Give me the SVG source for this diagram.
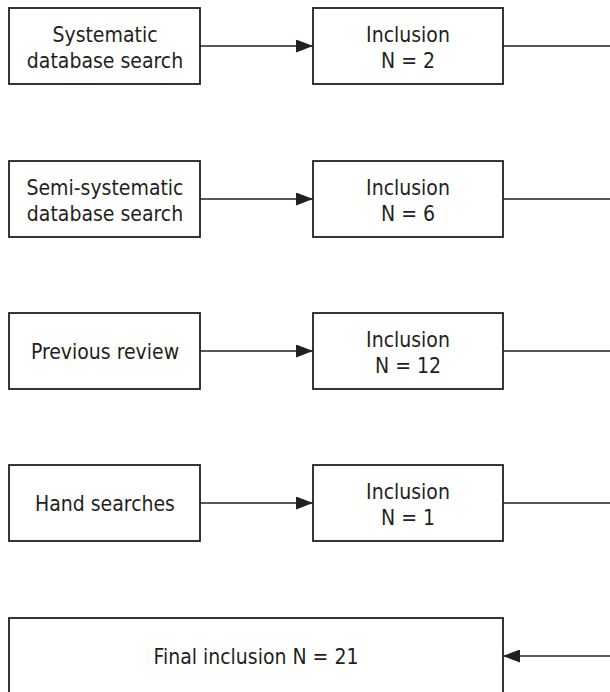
<svg xmlns="http://www.w3.org/2000/svg" width="610" height="692" viewBox="0 0 610 692">
  <defs>
    <marker id="arrow" viewBox="0 0 17 13" refX="17" refY="6.5" markerWidth="17" markerHeight="13" markerUnits="userSpaceOnUse" orient="auto">
      <path d="M0,0 L17,6.5 L0,13 Z" fill="#231f20"/>
    </marker>
    <style>
      .box { fill: #ffffff; stroke: #231f20; stroke-width: 1.8; }
      .lbl { font-family: "DejaVu Sans Condensed", "DejaVu Sans", Verdana, sans-serif; font-stretch: condensed; font-size: 21px; fill: #231f20; text-anchor: middle; }
      .edge { fill: none; stroke: #231f20; stroke-width: 1.6; }
    </style>
  </defs>
  <rect width="610" height="692" fill="#ffffff"/>

  <g id="connectors">
    <line class="edge" x1="200" y1="46" x2="313" y2="46" marker-end="url(#arrow)"/>
    <line class="edge" x1="503" y1="46" x2="610" y2="46"/>
    <line class="edge" x1="200" y1="199" x2="313" y2="199" marker-end="url(#arrow)"/>
    <line class="edge" x1="503" y1="199" x2="610" y2="199"/>
    <line class="edge" x1="200" y1="351" x2="313" y2="351" marker-end="url(#arrow)"/>
    <line class="edge" x1="503" y1="351" x2="610" y2="351"/>
    <line class="edge" x1="200" y1="503" x2="313" y2="503" marker-end="url(#arrow)"/>
    <line class="edge" x1="503" y1="503" x2="610" y2="503"/>
    <line class="edge" x1="610" y1="656" x2="503" y2="656" marker-end="url(#arrow)"/>
  </g>

  <g id="systematic-search">
    <rect class="box" x="9" y="8" width="191" height="76"/>
    <text class="lbl" x="105" y="41.5">Systematic</text>
    <text class="lbl" x="105" y="68">database search</text>
  </g>
  <g id="inclusion-1">
    <rect class="box" x="313" y="8" width="190" height="76"/>
    <text class="lbl" x="408" y="41.5">Inclusion</text>
    <text class="lbl" x="408" y="68">N = 2</text>
  </g>

  <g id="semi-systematic-search">
    <rect class="box" x="9" y="161" width="191" height="76"/>
    <text class="lbl" x="105" y="194.5">Semi-systematic</text>
    <text class="lbl" x="105" y="221">database search</text>
  </g>
  <g id="inclusion-2">
    <rect class="box" x="313" y="161" width="190" height="76"/>
    <text class="lbl" x="408" y="194.5">Inclusion</text>
    <text class="lbl" x="408" y="221">N = 6</text>
  </g>

  <g id="previous-review">
    <rect class="box" x="9" y="313" width="191" height="76"/>
    <text class="lbl" x="105" y="358.5">Previous review</text>
  </g>
  <g id="inclusion-3">
    <rect class="box" x="313" y="313" width="190" height="76"/>
    <text class="lbl" x="408" y="346.5">Inclusion</text>
    <text class="lbl" x="408" y="373">N = 12</text>
  </g>

  <g id="hand-searches">
    <rect class="box" x="9" y="465" width="191" height="76"/>
    <text class="lbl" x="105" y="510.5">Hand searches</text>
  </g>
  <g id="inclusion-4">
    <rect class="box" x="313" y="465" width="190" height="76"/>
    <text class="lbl" x="408" y="498.5">Inclusion</text>
    <text class="lbl" x="408" y="525">N = 1</text>
  </g>

  <g id="final-inclusion">
    <rect class="box" x="9" y="618" width="494" height="90"/>
    <text class="lbl" x="256" y="663.5">Final inclusion N = 21</text>
  </g>
</svg>
